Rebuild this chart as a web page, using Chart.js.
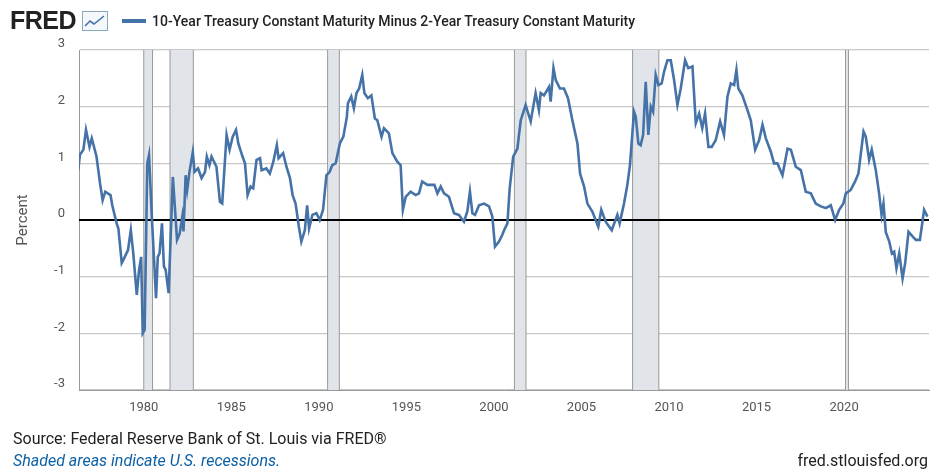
<!DOCTYPE html>
<html>
<head>
<meta charset="utf-8">
<script src="https://cdn.jsdelivr.net/npm/chart.js@4"></script>
<style>
  body { margin: 0; width: 950px; height: 473px; background: #fff; font-family: Roboto, sans-serif; position: relative; overflow: hidden; }
  #wrap { position: absolute; left: 0; top: 0; width: 950px; height: 473px; }
  .hdr { position: absolute; top: 6px; left: 10px; display: flex; align-items: center; }
  .logo { font-weight: 900; font-size: 25px; color: #222; letter-spacing: -0.5px; font-family: "Liberation Sans", Arial, sans-serif; }
  .icon { width: 24px; height: 18px; border: 1px solid #8ab; margin-left: 6px; position: relative; background: #f4f8fb; }
  .sw { display: inline-block; width: 24px; height: 4px; background: #4572a7; margin: 0 6px 0 14px; }
  .ttl { font-size: 14px; font-weight: 500; color: #222; }
  .f1 { position: absolute; left: 13px; top: 429px; font-size: 16px; color: #222; }
  .f2 { position: absolute; left: 13px; top: 451px; font-size: 16px; color: #0b5fa5; font-style: italic; }
  .f3 { position: absolute; right: 22px; top: 451px; font-size: 16px; color: #222; }
</style>
</head>
<body>
<div id="wrap"><canvas id="c" width="950" height="473"></canvas></div>
<div class="hdr">
  <span class="logo">FRED</span>
  <span class="icon"><svg width="24" height="18"><polyline points="2,14 7,9 11,12 21,4" fill="none" stroke="#4572a7" stroke-width="1.6"/></svg></span>
  <span class="sw"></span>
  <span class="ttl">10-Year Treasury Constant Maturity Minus 2-Year Treasury Constant Maturity</span>
</div>
<div class="f1">Source: Federal Reserve Bank of St. Louis via FRED®</div>
<div class="f2">Shaded areas indicate U.S. recessions.</div>
<div class="f3">fred.stlouisfed.org</div>
<script>
// decimal years and spread values (percent)
const years = [
  1976.26,1976.35,1976.55,1976.7,1976.9,1977.03,1977.3,1977.5,1977.65,1977.8,1978.1,1978.2,1978.45,1978.55,1978.74,1978.84,
  1979.1,1979.26,1979.4,1979.6,1979.73,1979.85,1979.94,1980.05,1980.2,1980.3,1980.45,1980.7,1980.8,1980.9,1981.04,1981.15,
  1981.25,1981.42,1981.66,1981.9,1982.05,1982.2,1982.27,1982.39,1982.48,1982.61,1982.8,1982.9,1983.1,1983.3,1983.5,1983.6,
  1983.75,1983.87,1984.15,1984.35,1984.48,1984.73,1984.9,1985.08,1985.27,1985.4,1985.64,1985.78,1985.93,1986.1,1986.25,1986.44,
  1986.64,1986.73,1987.0,1987.2,1987.4,1987.6,1987.7,1987.96,1988.15,1988.35,1988.5,1988.67,1988.86,1989.0,1989.2,1989.33,
  1989.44,1989.63,1989.86,1990.05,1990.24,1990.43,1990.62,1990.77,1990.96,1991.2,1991.4,1991.6,1991.66,1991.85,1992.0,1992.15,
  1992.3,1992.48,1992.6,1992.8,1993.0,1993.2,1993.34,1993.58,1993.72,1994.0,1994.2,1994.48,1994.67,1994.8,1994.96,1995.24,
  1995.53,1995.72,1995.9,1996.2,1996.6,1996.77,1996.96,1997.15,1997.43,1997.72,1998.0,1998.29,1998.48,1998.63,1998.77,1998.92,
  1999.15,1999.43,1999.72,1999.91,2000.06,2000.29,2000.48,2000.58,2000.77,2000.9,2001.1,2001.34,2001.53,2001.81,2002.1,2002.38,
  2002.57,2002.67,2002.86,2003.15,2003.24,2003.4,2003.53,2003.77,2004.0,2004.23,2004.48,2004.77,2004.92,2005.15,2005.34,2005.62,
  2005.96,2006.13,2006.38,2006.73,2007.05,2007.18,2007.43,2007.62,2007.77,2008.0,2008.1,2008.25,2008.38,2008.52,2008.67,2008.82,
  2008.96,2009.09,2009.24,2009.4,2009.58,2009.72,2009.91,2010.1,2010.29,2010.48,2010.67,2010.92,2011.1,2011.34,2011.53,2011.72,
  2011.9,2012.06,2012.25,2012.44,2012.67,2012.92,2013.14,2013.34,2013.53,2013.72,2013.85,2013.96,2014.19,2014.48,2014.67,2014.92,
  2015.15,2015.34,2015.53,2015.81,2016.0,2016.19,2016.48,2016.77,2016.96,2017.24,2017.53,2017.81,2018.1,2018.38,2018.67,2018.96,
  2019.24,2019.49,2019.72,2019.96,2020.1,2020.38,2020.63,2020.82,2020.96,2021.11,2021.24,2021.43,2021.58,2021.81,2022.0,2022.14,
  2022.25,2022.38,2022.58,2022.73,2022.86,2022.99,2023.15,2023.34,2023.49,2023.68,2023.91,2024.1,2024.33,2024.57,2024.76
];
const spread = [
  0.88,1.15,1.24,1.59,1.29,1.44,1.12,0.65,0.35,0.5,0.44,0.26,-0.06,-0.15,-0.76,-0.7,
  -0.53,-0.18,-0.59,-1.32,-0.88,-0.65,-2.0,-1.94,1.0,1.15,0.12,-1.38,-0.65,-0.59,-0.06,-0.82,
  -0.88,-1.29,0.76,-0.35,-0.24,0.06,-0.2,0.79,0.53,0.85,1.2,0.85,0.91,0.74,0.85,1.12,
  0.97,1.12,0.94,0.32,0.29,1.5,1.24,1.47,1.59,1.35,1.12,1.0,0.44,0.59,0.56,1.06,
  1.09,0.88,0.91,0.82,1.03,1.32,1.09,1.18,0.94,0.74,0.44,0.29,-0.12,-0.38,-0.18,0.26,
  -0.15,0.09,0.12,0.0,0.18,0.79,0.85,0.97,1.0,1.35,1.47,1.82,2.06,2.18,1.97,2.24,
  2.32,2.56,2.24,2.15,2.2,1.79,1.76,1.47,1.62,1.53,1.18,1.03,0.97,0.18,0.41,0.5,
  0.44,0.47,0.68,0.62,0.62,0.47,0.59,0.47,0.41,0.12,0.09,-0.03,0.15,0.5,0.12,0.09,
  0.26,0.29,0.24,0.06,-0.47,-0.38,-0.26,-0.18,-0.06,0.56,1.12,1.26,1.76,2.03,1.74,2.24,
  1.94,2.24,2.2,2.35,2.09,2.68,2.47,2.32,2.32,2.15,1.76,1.35,0.82,0.59,0.29,0.15,
  -0.12,0.18,-0.03,-0.18,0.09,-0.06,0.29,0.62,0.97,1.91,1.82,1.35,1.32,1.5,2.44,1.5,
  2.0,1.91,2.56,2.38,2.41,2.62,2.82,2.82,2.47,2.03,2.32,2.82,2.68,2.71,1.71,1.88,
  1.62,1.88,1.29,1.29,1.41,1.74,1.5,2.18,2.41,2.38,2.65,2.32,2.2,1.94,1.76,1.24,
  1.41,1.68,1.44,1.21,1.0,1.0,0.79,1.26,1.24,0.94,0.88,0.5,0.47,0.29,0.24,0.21,
  0.26,0.0,0.18,0.29,0.47,0.53,0.68,0.82,1.18,1.56,1.47,1.06,1.24,0.88,0.47,0.09,
  0.29,-0.21,-0.38,-0.59,-0.56,-0.85,-0.59,-1.03,-0.76,-0.21,-0.29,-0.35,-0.35,0.18,0.06
];
const recessionStart = [1980.0, 1981.5, 1990.5, 2001.17, 2007.92, 2020.08];
const recessionEnd = [1980.5, 1982.83, 1991.17, 2001.83, 2009.42, 2020.25];
const xTicks = [1980, 1985, 1990, 1995, 2000, 2005, 2010, 2015, 2020];

const recessionPlugin = {
  id: 'recessions',
  beforeDatasetsDraw(chart) {
    const { ctx, chartArea, scales } = chart;
    ctx.save();
    for (let i = 0; i < recessionStart.length; i++) {
      const x1 = scales.x.getPixelForValue(recessionStart[i]);
      const x2 = scales.x.getPixelForValue(recessionEnd[i]);
      ctx.fillStyle = '#e1e5ea';
      ctx.fillRect(x1, chartArea.top, x2 - x1, chartArea.bottom - chartArea.top);
      ctx.strokeStyle = '#999';
      ctx.lineWidth = 1;
      ctx.beginPath();
      ctx.moveTo(x1, chartArea.top); ctx.lineTo(x1, chartArea.bottom);
      ctx.moveTo(x2, chartArea.top); ctx.lineTo(x2, chartArea.bottom);
      ctx.stroke();
    }
    const y0 = scales.y.getPixelForValue(0);
    ctx.strokeStyle = '#000';
    ctx.lineWidth = 2;
    ctx.beginPath();
    ctx.moveTo(chartArea.left, y0); ctx.lineTo(chartArea.right, y0);
    ctx.stroke();
    ctx.restore();
  }
};

new Chart(document.getElementById('c'), {
  type: 'line',
  data: {
    datasets: [{
      data: years.map((x, i) => ({ x, y: spread[i] })),
      borderColor: '#4572a7',
      borderWidth: 2.6,
      pointRadius: 0,
      tension: 0
    }]
  },
  options: {
    responsive: false,
    animation: false,
    layout: { padding: { top: 50, right: 21, bottom: 53, left: 0 } },
    plugins: { legend: { display: false }, tooltip: { enabled: false } },
    scales: {
      x: {
        type: 'linear',
        min: 1976.3,
        max: 2024.85,
        afterFit: (s) => { s.height = 30; },
        afterBuildTicks: (s) => { s.ticks = xTicks.map((v) => ({ value: v })); },
        grid: { display: false, drawTicks: false },
        border: { display: true, color: '#999' },
        ticks: { color: '#555', font: { family: 'Roboto', size: 13 }, padding: 10, callback: (v) => String(v), maxRotation: 0 }
      },
      y: {
        min: -3,
        max: 3,
        afterFit: (s) => { s.width = 79; },
        grid: { color: '#c8c8c8', lineWidth: 1.3, drawTicks: false },
        border: { display: true, color: '#999' },
        ticks: { stepSize: 1, color: '#555', font: { family: 'Roboto', size: 13 }, padding: 14, labelOffset: -6 },
        title: { display: true, text: 'Percent', color: '#555', font: { family: 'Roboto', size: 15 }, padding: { top: 14, bottom: 0 } }
      }
    }
  },
  plugins: [recessionPlugin]
});
</script>
</body>
</html>
